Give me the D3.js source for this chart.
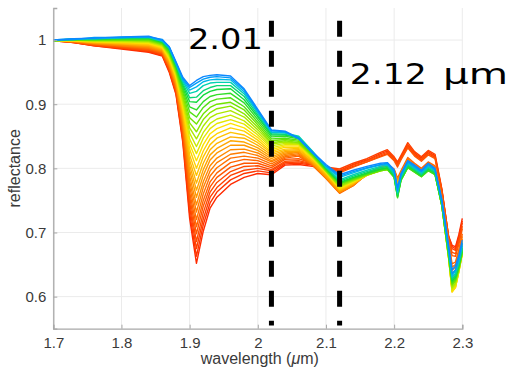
<!DOCTYPE html>
<html>
<head>
<meta charset="utf-8">
<script src="https://cdn.jsdelivr.net/npm/d3@7"></script>
<style>
  body { margin: 0; background: #fff; }
  svg text { font-family: "Liberation Sans", Arial, sans-serif; }
</style>
</head>
<body>
<script>
// wavelength samples (um)
const wavelengths = [1.70, 1.73, 1.76, 1.80, 1.84, 1.86, 1.87, 1.88, 1.89, 1.90, 1.91, 1.92, 1.93, 1.94, 1.96, 1.98, 2.00, 2.02, 2.04,
    2.06, 2.08, 2.10, 2.12, 2.14, 2.16, 2.18, 2.19, 2.20, 2.205, 2.21, 2.22, 2.23, 2.24, 2.25, 2.26, 2.27, 2.28, 2.285, 2.29, 2.295, 2.30];

// reflectance spectra, ordered blue -> red
const spectra = [
    [1.000,1.002,1.003,1.005,1.006,1.000,0.990,0.966,0.942,0.929,0.937,0.943,0.945,0.946,0.944,0.924,0.892,0.860,0.858, 0.847,0.826,0.806,0.790,0.797,0.803,0.808,0.809,0.798,0.770,0.792,0.812,0.805,0.797,0.808,0.800,0.752,0.680,0.642,0.648,0.665,0.688],
    [1.000,1.001,1.004,1.004,1.005,1.001,0.989,0.965,0.940,0.926,0.933,0.939,0.942,0.943,0.941,0.922,0.890,0.859,0.857, 0.846,0.824,0.804,0.788,0.795,0.801,0.806,0.808,0.796,0.766,0.790,0.810,0.803,0.795,0.806,0.798,0.749,0.676,0.636,0.642,0.660,0.684],
    [1.000,1.002,1.002,1.004,1.005,0.999,0.989,0.964,0.938,0.922,0.927,0.935,0.938,0.939,0.938,0.919,0.888,0.857,0.856, 0.847,0.825,0.803,0.786,0.793,0.800,0.805,0.806,0.795,0.764,0.789,0.809,0.801,0.794,0.804,0.797,0.748,0.674,0.632,0.640,0.657,0.682],
    [1.000,1.001,1.003,1.004,1.004,0.998,0.988,0.963,0.936,0.917,0.920,0.929,0.933,0.934,0.934,0.916,0.886,0.856,0.855, 0.850,0.827,0.802,0.782,0.790,0.797,0.803,0.805,0.792,0.762,0.787,0.807,0.800,0.792,0.802,0.796,0.748,0.672,0.630,0.636,0.654,0.679],
    [0.999,1.002,1.002,1.003,1.004,0.998,0.986,0.961,0.933,0.910,0.911,0.921,0.926,0.929,0.929,0.912,0.883,0.854,0.853, 0.849,0.826,0.801,0.780,0.788,0.795,0.801,0.803,0.790,0.759,0.785,0.805,0.798,0.790,0.800,0.794,0.746,0.669,0.627,0.633,0.651,0.676],
    [1.000,1.001,1.002,1.003,1.003,0.997,0.985,0.960,0.930,0.904,0.903,0.914,0.920,0.923,0.924,0.907,0.880,0.852,0.852, 0.848,0.825,0.800,0.778,0.786,0.793,0.799,0.801,0.788,0.757,0.783,0.804,0.797,0.789,0.799,0.793,0.745,0.668,0.625,0.631,0.649,0.674],
    [1.000,1.001,1.001,1.002,1.002,0.996,0.984,0.958,0.926,0.896,0.891,0.904,0.912,0.915,0.917,0.902,0.876,0.849,0.850, 0.846,0.824,0.799,0.777,0.785,0.792,0.798,0.800,0.787,0.755,0.782,0.802,0.795,0.788,0.797,0.791,0.743,0.666,0.623,0.629,0.647,0.672],
    [0.999,1.001,1.001,1.001,1.001,0.995,0.982,0.956,0.922,0.888,0.880,0.895,0.904,0.908,0.910,0.896,0.872,0.846,0.847, 0.844,0.822,0.798,0.776,0.784,0.791,0.797,0.799,0.786,0.754,0.781,0.801,0.794,0.787,0.796,0.790,0.742,0.664,0.621,0.627,0.645,0.670],
    [1.000,1.000,1.000,1.000,1.000,0.994,0.980,0.954,0.918,0.879,0.869,0.885,0.895,0.900,0.903,0.891,0.868,0.843,0.845, 0.842,0.821,0.797,0.775,0.783,0.790,0.796,0.798,0.786,0.756,0.781,0.801,0.794,0.787,0.797,0.790,0.742,0.663,0.619,0.625,0.644,0.669],
    [0.999,1.000,1.000,1.000,0.999,0.993,0.979,0.952,0.913,0.871,0.857,0.876,0.887,0.893,0.897,0.885,0.864,0.840,0.843, 0.840,0.820,0.796,0.773,0.782,0.790,0.796,0.798,0.787,0.759,0.782,0.802,0.795,0.788,0.798,0.791,0.742,0.662,0.617,0.624,0.643,0.669],
    [1.000,1.000,0.999,0.999,0.998,0.992,0.977,0.950,0.909,0.863,0.846,0.866,0.879,0.885,0.890,0.880,0.860,0.838,0.841, 0.839,0.819,0.796,0.772,0.781,0.790,0.797,0.799,0.789,0.764,0.784,0.804,0.797,0.789,0.799,0.792,0.742,0.661,0.614,0.621,0.642,0.669],
    [0.999,1.000,0.999,0.998,0.997,0.991,0.976,0.948,0.905,0.855,0.834,0.856,0.870,0.877,0.883,0.874,0.856,0.835,0.839, 0.838,0.818,0.795,0.771,0.780,0.789,0.796,0.798,0.789,0.765,0.784,0.804,0.797,0.789,0.799,0.792,0.741,0.660,0.612,0.619,0.641,0.668],
    [1.000,1.000,0.998,0.997,0.996,0.990,0.974,0.946,0.901,0.846,0.823,0.847,0.862,0.870,0.876,0.869,0.852,0.832,0.837, 0.837,0.817,0.795,0.770,0.780,0.790,0.797,0.799,0.790,0.767,0.785,0.805,0.798,0.790,0.800,0.793,0.742,0.659,0.610,0.617,0.640,0.668],
    [0.999,0.999,0.998,0.997,0.995,0.989,0.972,0.944,0.897,0.838,0.812,0.837,0.854,0.862,0.870,0.863,0.848,0.829,0.835, 0.835,0.816,0.794,0.769,0.779,0.790,0.797,0.800,0.791,0.769,0.786,0.806,0.799,0.791,0.801,0.794,0.742,0.659,0.608,0.615,0.639,0.667],
    [1.000,0.999,0.997,0.996,0.994,0.988,0.971,0.942,0.893,0.830,0.800,0.827,0.846,0.854,0.863,0.858,0.844,0.826,0.833, 0.833,0.815,0.793,0.768,0.778,0.790,0.798,0.800,0.791,0.770,0.787,0.806,0.799,0.791,0.801,0.794,0.743,0.660,0.607,0.614,0.639,0.667],
    [0.999,0.999,0.997,0.995,0.993,0.987,0.969,0.940,0.889,0.821,0.789,0.818,0.837,0.847,0.856,0.852,0.840,0.824,0.830, 0.831,0.813,0.792,0.767,0.777,0.789,0.797,0.800,0.792,0.772,0.788,0.807,0.800,0.792,0.802,0.795,0.744,0.661,0.608,0.615,0.640,0.668],
    [1.000,0.999,0.996,0.994,0.992,0.986,0.968,0.937,0.885,0.813,0.777,0.808,0.829,0.839,0.849,0.847,0.836,0.821,0.828, 0.829,0.812,0.790,0.766,0.776,0.789,0.798,0.801,0.793,0.774,0.789,0.808,0.800,0.793,0.803,0.796,0.745,0.663,0.612,0.619,0.643,0.670],
    [0.999,0.998,0.996,0.994,0.991,0.985,0.966,0.935,0.881,0.805,0.766,0.798,0.821,0.831,0.843,0.841,0.832,0.818,0.826, 0.827,0.810,0.788,0.765,0.776,0.790,0.799,0.802,0.794,0.777,0.790,0.810,0.802,0.794,0.804,0.798,0.748,0.670,0.625,0.630,0.652,0.678],
    [1.000,0.998,0.995,0.993,0.990,0.984,0.964,0.933,0.877,0.797,0.755,0.789,0.813,0.824,0.836,0.836,0.828,0.815,0.824, 0.826,0.809,0.787,0.764,0.775,0.790,0.800,0.803,0.795,0.778,0.791,0.811,0.803,0.795,0.805,0.799,0.750,0.674,0.630,0.635,0.656,0.682],
    [0.999,0.998,0.995,0.992,0.989,0.983,0.963,0.931,0.873,0.788,0.743,0.779,0.804,0.816,0.829,0.830,0.824,0.812,0.822, 0.825,0.808,0.786,0.763,0.774,0.790,0.800,0.803,0.796,0.780,0.792,0.812,0.804,0.796,0.806,0.800,0.752,0.678,0.636,0.641,0.661,0.686],
    [1.000,0.998,0.994,0.991,0.988,0.982,0.961,0.929,0.869,0.780,0.732,0.770,0.796,0.809,0.822,0.825,0.820,0.810,0.820, 0.823,0.807,0.785,0.762,0.774,0.791,0.801,0.804,0.797,0.781,0.793,0.813,0.805,0.797,0.807,0.801,0.753,0.681,0.641,0.646,0.666,0.690],
    [0.999,0.997,0.994,0.991,0.987,0.981,0.960,0.927,0.865,0.772,0.720,0.760,0.788,0.801,0.816,0.819,0.816,0.807,0.818, 0.821,0.806,0.785,0.762,0.773,0.791,0.802,0.805,0.798,0.783,0.794,0.815,0.806,0.798,0.808,0.802,0.754,0.684,0.646,0.650,0.670,0.694],
    [1.000,0.997,0.993,0.990,0.986,0.980,0.958,0.925,0.860,0.763,0.709,0.750,0.779,0.793,0.809,0.814,0.812,0.804,0.816, 0.819,0.805,0.784,0.761,0.773,0.792,0.803,0.807,0.799,0.785,0.796,0.817,0.808,0.800,0.810,0.804,0.756,0.686,0.651,0.654,0.674,0.698],
    [0.999,0.997,0.993,0.989,0.985,0.979,0.956,0.923,0.856,0.755,0.698,0.741,0.771,0.786,0.802,0.808,0.808,0.801,0.814, 0.815,0.808,0.800,0.793,0.802,0.810,0.818,0.822,0.812,0.802,0.813,0.832,0.819,0.811,0.821,0.815,0.762,0.688,0.664,0.663,0.682,0.706],
    [1.000,0.997,0.992,0.988,0.984,0.978,0.955,0.921,0.852,0.747,0.686,0.731,0.763,0.778,0.795,0.803,0.804,0.798,0.811, 0.812,0.807,0.801,0.796,0.805,0.812,0.821,0.825,0.815,0.806,0.816,0.836,0.822,0.814,0.824,0.818,0.765,0.690,0.669,0.667,0.686,0.710],
    [0.999,0.996,0.992,0.988,0.983,0.977,0.953,0.919,0.848,0.739,0.675,0.721,0.755,0.770,0.789,0.797,0.800,0.796,0.809, 0.810,0.806,0.802,0.799,0.808,0.815,0.825,0.829,0.818,0.810,0.820,0.840,0.826,0.818,0.828,0.822,0.768,0.692,0.675,0.672,0.690,0.715],
    [1.000,0.996,0.991,0.987,0.982,0.976,0.952,0.917,0.844,0.730,0.663,0.712,0.746,0.763,0.782,0.792,0.796,0.793,0.807, 0.808,0.805,0.801,0.797,0.806,0.813,0.823,0.827,0.816,0.808,0.818,0.837,0.824,0.816,0.826,0.820,0.767,0.693,0.678,0.675,0.694,0.718],
    [0.999,0.996,0.991,0.986,0.981,0.975,0.950,0.915,0.840,0.722,0.652,0.702,0.738,0.755,0.775,0.786,0.792,0.790,0.805, 0.806,0.803,0.799,0.795,0.803,0.810,0.819,0.823,0.813,0.805,0.815,0.833,0.821,0.813,0.823,0.817,0.765,0.694,0.680,0.678,0.697,0.722]
];

const xTicks = [1.7, 1.8, 1.9, 2.0, 2.1, 2.2, 2.3];
const yTicks = [0.6, 0.7, 0.8, 0.9, 1.0];
const markerLines = [2.02, 2.12];
const markerSpan = [0.555, 1.03];
const noteLabels = ["2.01", "2.12", "\u03bcm"];
const notePos = [[1.8975, 0.986], [2.135, 0.931], [2.2717, 0.931]];

const width = 513, height = 372;
const margin = { top: 8, right: 50.7, bottom: 43.3, left: 53.3 };

const svg = d3.select("body").append("svg")
    .attr("width", width)
    .attr("height", height)
    .style("background-color", "#ffffff");

const x = d3.scaleLinear().domain([1.7, 2.3]).range([margin.left, width - margin.right]);
const y = d3.scaleLinear().domain([0.55, 1.05]).range([height - margin.bottom, margin.top]);

// grid
svg.append("g").selectAll("line.vg")
    .data(xTicks).enter().append("line")
    .attr("x1", d => x(d)).attr("x2", d => x(d))
    .attr("y1", y(0.55)).attr("y2", y(1.05))
    .attr("stroke", "#ebebeb").attr("stroke-width", 1);
svg.append("g").selectAll("line.hg")
    .data(yTicks).enter().append("line")
    .attr("x1", x(1.7)).attr("x2", x(2.3))
    .attr("y1", d => y(d)).attr("y2", d => y(d))
    .attr("stroke", "#ebebeb").attr("stroke-width", 1);

// colours along the series, blue -> red
const colour = d3.scaleLinear()
    .domain([0, 1, 2, 3, 5, 8, 11, 13, 16, 19, 23, 27])
    .range(["#0c88ff", "#009cf8", "#00b8e8", "#00d2b0", "#12da3c", "#70e400", "#c8ea00", "#ffe200", "#ffb400", "#ff8a00", "#ff5600", "#ff2a00"]);

const line = d3.line()
    .x((d, i) => x(wavelengths[i]))
    .y(d => y(d));

// draw red first so blue ends up on top
const order = d3.range(spectra.length).reverse();
svg.append("g").selectAll("path")
    .data(order).enter().append("path")
    .attr("d", i => line(spectra[i]))
    .attr("fill", "none")
    .attr("stroke", i => colour(i))
    .attr("stroke-width", 1.4)
    .attr("stroke-linejoin", "round");

// axes
const xAxis = d3.axisBottom(x).tickValues(xTicks).tickSize(-4).tickPadding(9)
    .tickFormat(d => d3.format("")(+d.toFixed(1)));
const yAxis = d3.axisLeft(y).tickValues(yTicks).tickSize(-4).tickPadding(7)
    .tickFormat(d => d3.format("")(+d.toFixed(1)));

const gx = svg.append("g").attr("transform", `translate(0,${y(0.55)})`).call(xAxis);
const gy = svg.append("g").attr("transform", `translate(${x(1.7)},0)`).call(yAxis);
[gx, gy].forEach(g => {
    g.select(".domain").attr("stroke", "#a8a8a8").attr("stroke-width", 1.3);
    g.selectAll(".tick line").attr("stroke", "#a8a8a8");
    g.selectAll(".tick text").attr("fill", "#3a3a3a").style("font-size", "15px");
});

// axis labels
svg.append("text")
    .attr("x", x(2.0) + 2).attr("y", 364)
    .attr("text-anchor", "middle")
    .attr("fill", "#3a3a3a")
    .style("font-size", "16px")
    .html("wavelength (<tspan font-style='italic'>\u03bc</tspan>m)");

svg.append("text")
    .attr("transform", `translate(20,${y(0.8)}) rotate(-90)`)
    .attr("text-anchor", "middle")
    .attr("fill", "#3a3a3a")
    .style("font-size", "16px")
    .text("reflectance");

// dashed markers
svg.append("g").selectAll("line")
    .data(markerLines).enter().append("line")
    .attr("x1", d => x(d)).attr("x2", d => x(d))
    .attr("y1", y(markerSpan[1])).attr("y2", y(markerSpan[0]))
    .attr("stroke", "#000").attr("stroke-width", 5)
    .attr("stroke-dasharray", "16,14");

// annotations
const noteWidths = [75, 77, 65];
svg.append("g").selectAll("text")
    .data(noteLabels).enter().append("text")
    .attr("x", (d, i) => x(notePos[i][0]))
    .attr("y", (d, i) => y(notePos[i][1]))
    .attr("textLength", (d, i) => noteWidths[i])
    .attr("lengthAdjust", "spacingAndGlyphs")
    .style("font-family", "'DejaVu Sans', sans-serif")
    .style("font-size", "29px")
    .attr("fill", "#000")
    .text(d => d);
</script>
</body>
</html>
